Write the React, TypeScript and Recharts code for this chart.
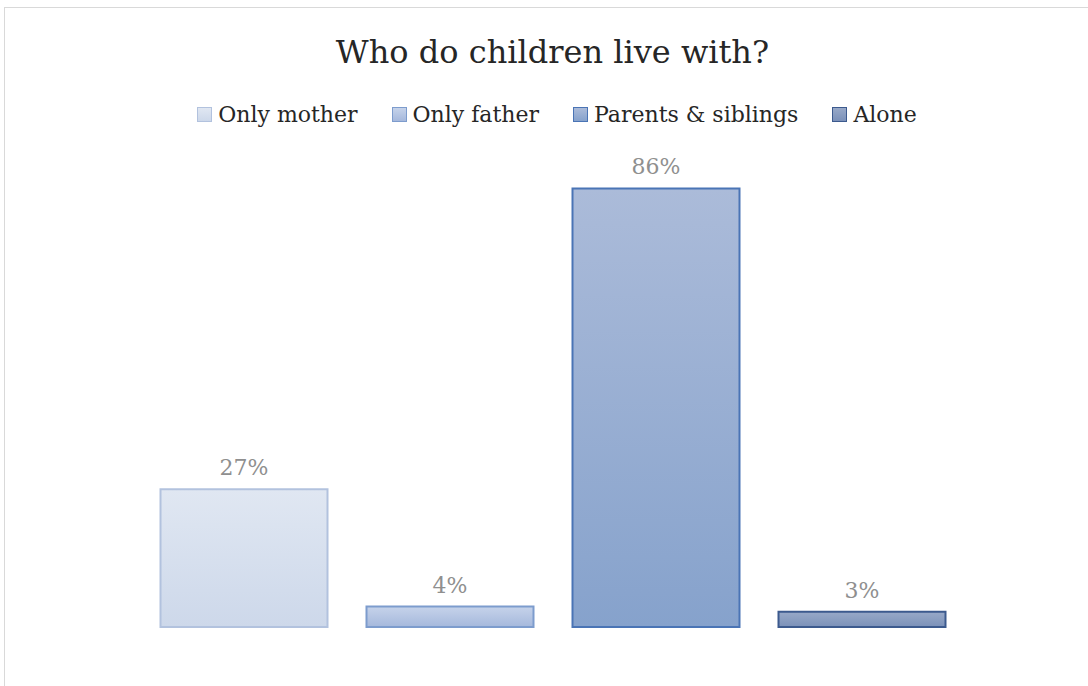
import { BarChart, Bar, XAxis, YAxis, LabelList } from 'recharts';

const categories = ['Who do children live with?'];
const seriesNames = ['Only mother', 'Only father', 'Parents & siblings', 'Alone'];
const seriesKeys = ['mother', 'father', 'parents', 'alone'];
const seriesValues = [27, 4, 86, 3];

// fill gradient (top, bottom) and outline per series
const seriesStyles = [
  { top: '#e0e7f2', bottom: '#cdd8ea', stroke: '#b2c2de' },
  { top: '#c6d3ea', bottom: '#a5b8dc', stroke: '#7d9ccd' },
  { top: '#abbbd9', bottom: '#86a2cc', stroke: '#4a74b5' },
  { top: '#98a9c8', bottom: '#7b91b9', stroke: '#3c5a8e' },
];

const chartData = categories.map((name) => {
  const row: Record<string, string | number> = { name };
  seriesKeys.forEach((k, i) => {
    row[k] = seriesValues[i];
  });
  return row;
});

const FONT = '"DejaVu Serif", serif';

export default function App() {
  return (
    <div
      style={{
        position: 'absolute',
        left: 0,
        top: 0,
        width: 1088,
        height: 686,
        background: '#fff',
        overflow: 'hidden',
        fontFamily: FONT,
      }}
    >
      {/* frame, only top and left edges visible */}
      <div
        style={{
          position: 'absolute',
          left: 4,
          top: 7,
          width: 1200,
          height: 800,
          borderTop: '1px solid #d9d9d9',
          borderLeft: '1px solid #d9d9d9',
        }}
      />

      {/* title */}
      <div
        style={{
          position: 'absolute',
          left: 0,
          top: 33,
          width: 1105,
          textAlign: 'center',
          fontSize: 32,
          lineHeight: '38px',
          color: '#262626',
        }}
      >
        {categories[0]}
      </div>

      {/* legend */}
      <div
        style={{
          position: 'absolute',
          left: 0,
          top: 100,
          width: 1114,
          height: 28,
          display: 'flex',
          justifyContent: 'center',
          alignItems: 'center',
          gap: 34,
          fontSize: 22,
          color: '#262626',
        }}
      >
        {seriesNames.map((n, i) => (
          <div key={n} style={{ display: 'flex', alignItems: 'center', gap: 6 }}>
            <span
              style={{
                display: 'inline-block',
                width: 13,
                height: 13,
                border: `1.5px solid ${seriesStyles[i].stroke}`,
                background: `linear-gradient(${seriesStyles[i].top}, ${seriesStyles[i].bottom})`,
              }}
            />
            <span>{n}</span>
          </div>
        ))}
      </div>

      <div style={{ position: 'absolute', left: 0, top: 0 }}>
        <BarChart
          width={1088}
          height={686}
          data={chartData}
          margin={{ top: 117, right: 123.5, bottom: 59, left: 140.5 }}
          barCategoryGap={19.5}
          barGap={39}
          barSize={167}
        >
          <defs>
            {seriesStyles.map((s, i) => (
              <linearGradient key={i} id={`grad${i}`} x1="0" y1="0" x2="0" y2="1">
                <stop offset="0%" stopColor={s.top} />
                <stop offset="100%" stopColor={s.bottom} />
              </linearGradient>
            ))}
          </defs>
          <XAxis dataKey="name" hide />
          <YAxis hide domain={[0, 100]} />
          {seriesKeys.map((k, i) => (
            <Bar
              key={k}
              dataKey={k}
              name={seriesNames[i]}
              fill={`url(#grad${i})`}
              stroke={seriesStyles[i].stroke}
              strokeWidth={2}
              isAnimationActive={false}
            >
              <LabelList
                dataKey={k}
                position="top"
                offset={14}
                formatter={(v: number) => `${v}%`}
                style={{ fill: '#8f8f8f', fontSize: 22, fontFamily: FONT }}
              />
            </Bar>
          ))}
        </BarChart>
      </div>
    </div>
  );
}
